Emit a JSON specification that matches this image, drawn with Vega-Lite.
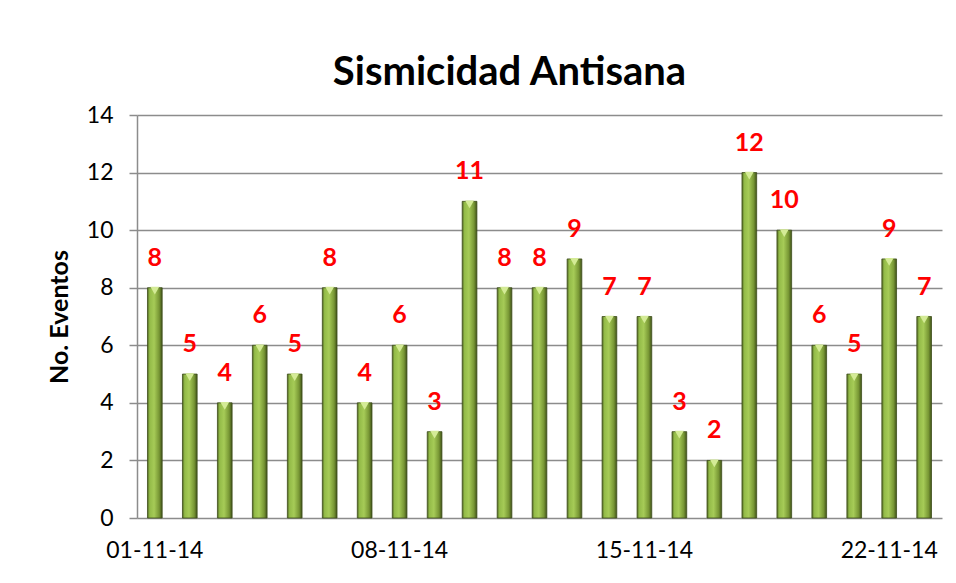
{
  "$schema": "https://vega.github.io/schema/vega-lite/v6.json",
  "width": 805,
  "height": 403,
  "autosize": "none",
  "padding": {"left": 137, "top": 115, "right": 14, "bottom": 65},
  "background": "white",
  "title": {
    "text": "Sismicidad Antisana",
    "font": "Lato",
    "fontSize": 40,
    "fontWeight": "bold",
    "color": "black",
    "anchor": "middle",
    "dx": -30,
    "offset": 11
  },
  "data": {
    "values": [
      {"fecha": "01-11-14", "eventos": 8},
      {"fecha": "02-11-14", "eventos": 5},
      {"fecha": "03-11-14", "eventos": 4},
      {"fecha": "04-11-14", "eventos": 6},
      {"fecha": "05-11-14", "eventos": 5},
      {"fecha": "06-11-14", "eventos": 8},
      {"fecha": "07-11-14", "eventos": 4},
      {"fecha": "08-11-14", "eventos": 6},
      {"fecha": "09-11-14", "eventos": 3},
      {"fecha": "10-11-14", "eventos": 11},
      {"fecha": "11-11-14", "eventos": 8},
      {"fecha": "12-11-14", "eventos": 8},
      {"fecha": "13-11-14", "eventos": 9},
      {"fecha": "14-11-14", "eventos": 7},
      {"fecha": "15-11-14", "eventos": 7},
      {"fecha": "16-11-14", "eventos": 3},
      {"fecha": "17-11-14", "eventos": 2},
      {"fecha": "18-11-14", "eventos": 12},
      {"fecha": "19-11-14", "eventos": 10},
      {"fecha": "20-11-14", "eventos": 6},
      {"fecha": "21-11-14", "eventos": 5},
      {"fecha": "22-11-14", "eventos": 9},
      {"fecha": "23-11-14", "eventos": 7}
    ]
  },
  "encoding": {
    "x": {
      "field": "fecha",
      "type": "ordinal",
      "sort": null,
      "scale": {"paddingInner": 0.58, "paddingOuter": 0.3},
      "axis": {
        "title": null,
        "values": ["01-11-14", "08-11-14", "15-11-14", "22-11-14"],
        "labelAngle": 0,
        "labelFont": "Lato",
        "labelFontSize": 23,
        "labelColor": "black",
        "labelPadding": 21,
        "ticks": false,
        "domain": false,
        "grid": false
      }
    },
    "y": {
      "field": "eventos",
      "type": "quantitative",
      "scale": {"domain": [0, 14]},
      "axis": {
        "title": "No. Eventos",
        "titleFont": "Lato",
        "titleFontSize": 25,
        "titleFontWeight": "bold",
        "titleColor": "black",
        "titlePadding": 14,
        "values": [0, 2, 4, 6, 8, 10, 12, 14],
        "labelFont": "Lato",
        "labelFontSize": 23,
        "labelColor": "black",
        "labelPadding": 16,
        "tickSize": 8,
        "tickColor": "#8c8c8c",
        "tickWidth": 1.5,
        "domainColor": "#8c8c8c",
        "domainWidth": 1.5,
        "gridColor": "#8c8c8c",
        "gridWidth": 1.5,
        "grid": true
      }
    }
  },
  "layer": [
    {
      "mark": {
        "type": "bar",
        "stroke": "#3f4f1c",
        "strokeWidth": 0.8,
        "color": {
          "gradient": "linear",
          "x1": 0, "x2": 1, "y1": 0, "y2": 0,
          "stops": [
            {"offset": 0, "color": "#4f6420"},
            {"offset": 0.15, "color": "#93bb48"},
            {"offset": 0.45, "color": "#a6cb57"},
            {"offset": 0.8, "color": "#779634"},
            {"offset": 1, "color": "#3f5018"}
          ]
        }
      }
    },
    {
      "mark": {
        "type": "point",
        "shape": "triangle-down",
        "filled": true,
        "color": "#d4eb96",
        "size": 80,
        "yOffset": 3,
        "opacity": 1
      }
    },
    {
      "mark": {
        "type": "text",
        "baseline": "bottom",
        "dy": -17,
        "font": "Lato",
        "fontSize": 25,
        "fontWeight": "bold",
        "color": "#ff0000"
      },
      "encoding": {"text": {"field": "eventos", "type": "quantitative"}}
    }
  ],
  "config": {"view": {"stroke": null}}
}
